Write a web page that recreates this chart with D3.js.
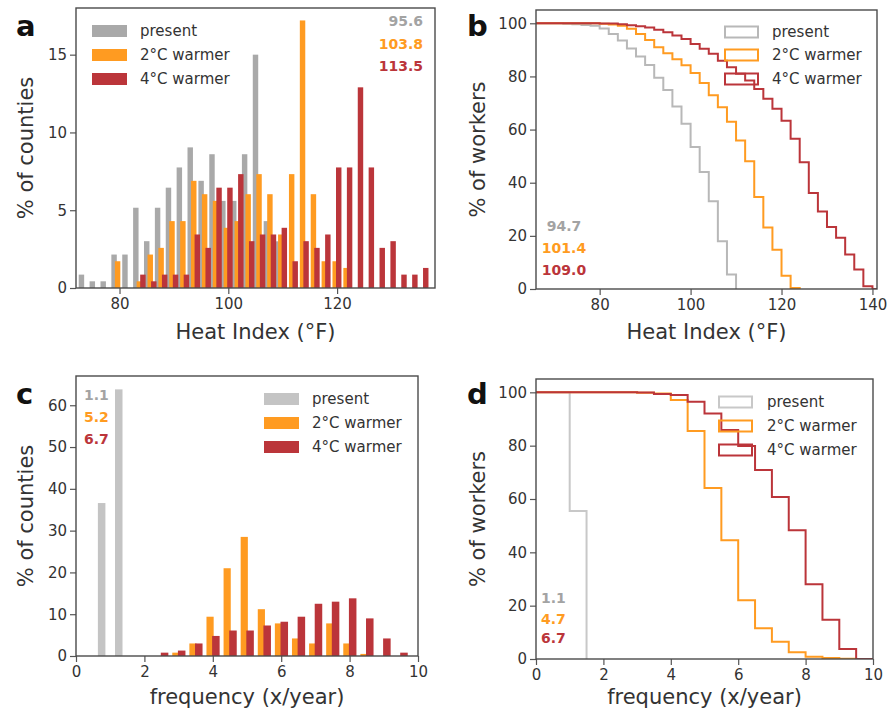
<!DOCTYPE html>
<html>
<head>
	<title>Heat index</title>
	<script src="https://d3js.org/d3.v7.min.js"></script>
	<style>
	*{
		margin:0;
		padding:0;
	}
	body { background:#fff; }
	text { font-family: "DejaVu Sans", sans-serif; }
</style>
</head>
<body>
<svg id="fig" width="891" height="718"></svg>
<script>

	var seriesNames = ["present", "2\u00B0C warmer", "4\u00B0C warmer"];

	// a: histogram of heat index by county (bins of 2 F, labelled by odd centre)
	var aGrayBins = [73,75,77,79,81,83,85,87,89,91,93,95,97,99,101,103,105,107,109];
	var aGrayVals = [0.86,0.43,0.43,2.15,2.15,5.16,3.01,5.16,6.45,7.75,9.04,6.89,8.6,5.6,5.6,8.6,15.0,4.3,3.0];
	var aOrangeBins = [79,83,85,87,89,91,93,95,97,99,101,103,105,107,109,111,113,115,117,119,121];
	var aOrangeVals = [1.72,0.43,2.15,2.58,4.3,4.3,6.89,6.03,5.6,3.87,4.3,6.03,7.32,6.03,3.44,7.32,17.2,6.03,1.72,1.72,1.29];
	var aRedBins = [83,85,87,89,91,93,95,97,99,101,103,105,107,109,111,113,115,117,119,121,123,125,127,129,131,133,135];
	var aRedVals = [0.86,0.43,0.86,0.86,0.86,3.44,2.58,6.45,6.45,7.32,3.01,3.44,3.44,3.87,1.72,3.01,2.58,3.44,7.75,7.75,12.9,7.75,2.58,3.01,0.86,0.86,1.29];
	var aMedians = ["95.6", "103.8", "113.5"];

	// b: % of workers above a heat index (step edges, value held until next edge)
	var bGrayX = [66,72,74,76,78,80,82,84,86,88,90,92,94,96,98,100,102,104,106,108,110];
	var bGrayY = [100,99.8,99.6,99.4,99.1,98.0,96.0,93.5,90.5,87.5,84.3,79.5,74.9,68.7,62.2,53.4,44.0,33.0,18.0,5.5,0];
	var bOrangeX = [66,80,82,84,86,88,90,92,94,96,98,100,102,104,106,108,110,112,114,116,118,120,122,124];
	var bOrangeY = [100,99.8,99.5,99.1,97.9,96.0,93.7,91.0,88.7,86.5,84.2,81.3,77.5,72.9,68.4,62.9,55.9,48.1,34.6,23.1,14.8,5.0,0.4,0];
	var bRedX = [66,80,84,86,88,90,92,94,96,98,100,102,104,106,108,110,112,114,116,118,120,122,124,126,128,130,132,134,136,138,140,141];
	var bRedY = [100,99.9,99.6,99.3,98.9,98.4,97.6,96.6,95.4,94.1,92.2,90.4,88.5,85.9,83.5,81.0,78.5,75.3,71.6,67.8,63.3,56.5,47.7,36.1,29.2,23.3,19.3,13.0,7.3,1.0,0,0];
	var bMedians = ["94.7", "101.4", "109.0"];

	// c: histogram of frequency (bins of 0.5 x/year)
	var cGrayBins = [0.75, 1.25];
	var cGrayVals = [36.6, 63.8];
	var cOrangeBins = [3.0,3.5,4.0,4.5,5.0,5.5,6.0,6.5,7.0,7.5,8.0,8.5];
	var cOrangeVals = [0.8,3.0,9.4,21.0,28.5,11.2,7.8,4.2,3.0,7.8,3.0,0.5];
	var cRedBins = [2.5,3.0,3.5,4.0,4.5,5.0,5.5,6.0,6.5,7.0,7.5,8.0,8.5,9.0,9.5];
	var cRedVals = [0.8,1.3,3.0,4.8,6.1,6.1,7.3,8.2,9.4,12.5,13.0,13.8,9.0,4.2,0.8];
	var cMedians = ["1.1", "5.2", "6.7"];

	// d: % of workers above a frequency
	var dGrayX = [0, 1.0, 1.5];
	var dGrayY = [100, 55.5, 0];
	var dOrangeX = [0,3.0,3.5,4.0,4.5,5.0,5.5,6.0,6.5,7.0,7.5,8.0,8.5,9.0,9.5];
	var dOrangeY = [100,99.8,99.6,97.1,85.5,64.1,44.5,22.0,11.5,6.5,2.5,0.8,0.4,0.1,0];
	var dRedX = [0,3.0,3.5,4.0,4.5,5.0,5.5,6.0,6.5,7.0,7.5,8.0,8.5,9.0,9.5,10];
	var dRedY = [100,99.9,99.4,99.0,96.5,92.1,85.9,79.9,70.9,60.75,48.25,28.0,14.75,3.75,0,0];
	var dMedians = ["1.1", "4.7", "6.7"];

	var gray = "#a9a9a9", grayLight = "#c4c4c4", orange = "#ff9b21", red = "#bb353a";
	var grayLine = "#b8b8b8";
	var grayText = "#a3a3a3";
	var ink = "#333";

	var svg = d3.select("#fig");

	function makeAxes(p){
		var g = svg.append("g");
		var x = d3.scaleLinear().domain(p.xd).range([p.l, p.r]);
		var y = d3.scaleLinear().domain(p.yd).range([p.b, p.t]);

		g.append("clipPath").attr("id", "clip" + p.id)
			.append("rect").attr("x", p.l).attr("y", p.t).attr("width", p.r - p.l).attr("height", p.b - p.t);
		var plot = g.append("g").attr("clip-path", "url(#clip" + p.id + ")");

		var xa = g.append("g").attr("transform", "translate(0," + p.b + ")")
			.call(d3.axisBottom(x).tickValues(p.xt).tickSize(6).tickPadding(4).tickFormat(d3.format("d")));
		var ya = g.append("g").attr("transform", "translate(" + p.l + ",0)")
			.call(d3.axisLeft(y).tickValues(p.yt).tickSize(6).tickPadding(3).tickFormat(d3.format("d")));
		[xa, ya].forEach(function(a){
			a.select(".domain").remove();
			a.selectAll("line").attr("stroke", "#555").attr("stroke-width", 1.2);
			a.selectAll("text").style("font-size", "15px").attr("fill", ink);
		});

		// frame
		g.append("rect").attr("x", p.l).attr("y", p.t).attr("width", p.r - p.l).attr("height", p.b - p.t)
			.attr("fill", "none").attr("stroke", "#4a4a4a").attr("stroke-width", 1.4);

		g.append("text").attr("x", (p.l + p.r) / 2).attr("y", p.xlY).attr("fill", ink)
			.attr("text-anchor", "middle").style("font-size", "21px").text(p.xl);
		g.append("text").attr("transform", "translate(" + p.ylX + "," + ((p.t + p.b) / 2) + ") rotate(-90)")
			.attr("fill", ink).attr("text-anchor", "middle").attr("dy", "0.35em").style("font-size", "21px").text(p.yl);
		g.append("text").attr("x", p.lbX).attr("y", p.lbY).attr("fill", "#111")
			.style("font-size", "29px").style("font-weight", "bold").text(p.id);

		return {g: g, plot: plot, x: x, y: y};
	}

	function bars(ax, bins, vals, off, w, color){
		ax.plot.selectAll(null).data(bins).enter().append("rect")
			.attr("x", function(d){ return ax.x(d + off - w / 2); })
			.attr("width", function(d){ return ax.x(d + off + w / 2) - ax.x(d + off - w / 2); })
			.attr("y", function(d, i){ return ax.y(vals[i]); })
			.attr("height", function(d, i){ return ax.y(0) - ax.y(vals[i]); })
			.attr("fill", color);
	}

	function steps(ax, xs, ys, color){
		var line = d3.line().curve(d3.curveStepAfter)
			.x(function(d){ return ax.x(d[0]); })
			.y(function(d){ return ax.y(d[1]); });
		ax.plot.append("path").datum(d3.zip(xs, ys))
			.attr("d", line).attr("fill", "none").attr("stroke", color).attr("stroke-width", 2);
	}

	function legend(ax, x0, ys, colors, filled, tx){
		seriesNames.forEach(function(n, i){
			if(filled){
				ax.g.append("rect").attr("x", x0).attr("y", ys[i] - 6).attr("width", 35).attr("height", 12)
					.attr("fill", colors[i]);
			} else {
				ax.g.append("rect").attr("x", x0 + 1).attr("y", ys[i] - 5.5).attr("width", 33).attr("height", 11)
					.attr("fill", "none").attr("stroke", colors[i]).attr("stroke-width", 2);
			}
			ax.g.append("text").attr("x", tx).attr("y", ys[i]).attr("dy", "0.35em").attr("fill", ink)
				.style("font-size", "15px").text(n);
		});
	}

	function medians(ax, labels, x, ys, anchor){
		var cols = [grayText, orange, red];
		labels.forEach(function(t, i){
			ax.g.append("text").attr("x", x).attr("y", ys[i]).attr("dy", "0.35em")
				.attr("text-anchor", anchor).style("font-size", "14px").style("font-weight", "bold")
				.attr("fill", cols[i]).text(t);
		});
	}

	// panel a
	var a = makeAxes({id:"a", l:76, r:435, t:8, b:288, xd:[72,138], yd:[0,18], xt:[80,100,120], yt:[0,5,10,15],
		xl:"Heat Index (\u00B0F)", yl:"% of counties", xlY:339, ylX:26, lbX:16, lbY:36});
	bars(a, aGrayBins, aGrayVals, 0, 1.0, gray);
	bars(a, aOrangeBins, aOrangeVals, 0.65, 1.0, orange);
	bars(a, aRedBins, aRedVals, 1.3, 1.0, red);
	legend(a, 92, [31, 55, 79], [gray, orange, red], true, 140);
	medians(a, aMedians, 423, [21, 44, 66], "end");

	// panel b
	var b = makeAxes({id:"b", l:536, r:877, t:10, b:289, xd:[66,141], yd:[0,105], xt:[80,100,120,140], yt:[0,20,40,60,80,100],
		xl:"Heat Index (\u00B0F)", yl:"% of workers", xlY:339, ylX:478, lbX:467, lbY:36});
	steps(b, bGrayX, bGrayY, grayLine);
	steps(b, bOrangeX, bOrangeY, orange);
	steps(b, bRedX, bRedY, red);
	legend(b, 724, [32, 55, 79], [grayLine, orange, red], false, 772);
	medians(b, bMedians, 564, [226, 248, 270], "middle");

	// panel c
	var c = makeAxes({id:"c", l:76, r:418, t:376, b:656, xd:[0,10], yd:[0,67], xt:[0,2,4,6,8,10], yt:[0,10,20,30,40,50,60],
		xl:"frequency (x/year)", yl:"% of counties", xlY:704, ylX:26, lbX:16, lbY:404});
	bars(c, cGrayBins, cGrayVals, 0, 0.22, grayLight);
	bars(c, cOrangeBins, cOrangeVals, -0.08, 0.21, orange);
	bars(c, cRedBins, cRedVals, 0.09, 0.22, red);
	legend(c, 264, [399, 423, 447], [grayLight, orange, red], true, 312);
	medians(c, cMedians, 84, [395, 417, 439], "start");

	// panel d
	var d = makeAxes({id:"d", l:536, r:873, t:379, b:659, xd:[0,10], yd:[0,105], xt:[0,2,4,6,8,10], yt:[0,20,40,60,80,100],
		xl:"frequency (x/year)", yl:"% of workers", xlY:704, ylX:478, lbX:467, lbY:404});
	steps(d, dGrayX, dGrayY, "#c8c8c8");
	steps(d, dOrangeX, dOrangeY, orange);
	steps(d, dRedX, dRedY, red);
	legend(d, 718, [402, 426, 450], ["#c8c8c8", orange, red], false, 767);
	medians(d, dMedians, 541, [598, 619, 638], "start");

</script>
</body>
</html>
